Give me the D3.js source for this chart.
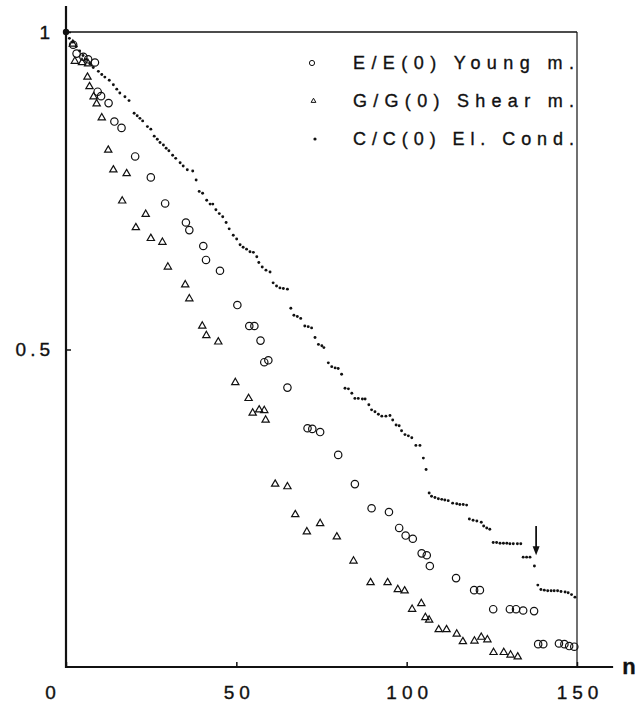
<!DOCTYPE html>
<html>
<head>
<meta charset="utf-8">
<script src="https://cdn.jsdelivr.net/npm/d3@7"></script>
<style>
  body { margin: 0; background: #fff; }
  text { font-family: "Liberation Sans", Arial, Helvetica, sans-serif; fill: #111; stroke: #111; stroke-width: 0.35px; }
</style>
</head>
<body>
<div id="chart"></div>
<script>
const width = 636;
const height = 702;

// x ticks / y ticks
const xTicks = [0, 50, 100, 150];
const yTicks = [0.5, 1];

// E/E(0) Young modulus  [n, value]
const youngPts = [
  [2.1, 0.980], [3.1, 0.966], [5.1, 0.961], [6.5, 0.957], [8.5, 0.952],
  [9.3, 0.906], [10.3, 0.899], [12.5, 0.888], [14.2, 0.859], [16.3, 0.849],
  [20.3, 0.804], [24.9, 0.771], [29.1, 0.730], [35.2, 0.700], [36.2, 0.688],
  [40.3, 0.663], [41.1, 0.641], [45.2, 0.624], [50.3, 0.570], [53.8, 0.537],
  [55.3, 0.537], [57.1, 0.514], [58.2, 0.480], [59.4, 0.483], [65.0, 0.440],
  [70.9, 0.376], [72.3, 0.375], [74.6, 0.370], [79.9, 0.334], [84.8, 0.288],
  [89.7, 0.250], [94.8, 0.244], [97.8, 0.219], [99.7, 0.207], [101.8, 0.202],
  [104.4, 0.179], [105.9, 0.176], [106.8, 0.159], [114.5, 0.140], [119.8, 0.121],
  [121.5, 0.121], [125.4, 0.091], [130.3, 0.091], [132.1, 0.091], [134.2, 0.089],
  [137.4, 0.088], [138.6, 0.036], [140.1, 0.036], [144.7, 0.037], [146.3, 0.036],
  [147.7, 0.033], [149.2, 0.032]
];

// G/G(0) Shear modulus  [n, value]
const shearPts = [
  [2.0, 0.981], [2.6, 0.954], [4.7, 0.952], [6.5, 0.950], [6.3, 0.929],
  [6.9, 0.914], [8.1, 0.898], [9.0, 0.887], [10.5, 0.865], [12.4, 0.814],
  [13.9, 0.783], [17.8, 0.777], [16.5, 0.734], [23.4, 0.713], [20.5, 0.692],
  [24.9, 0.675], [28.3, 0.669], [29.9, 0.630], [35.0, 0.602], [36.2, 0.580],
  [40.0, 0.537], [41.2, 0.522], [44.7, 0.512], [49.7, 0.448], [53.6, 0.423],
  [54.8, 0.400], [56.7, 0.405], [58.2, 0.404], [58.6, 0.389], [61.4, 0.288],
  [65.0, 0.284], [67.3, 0.240], [74.6, 0.226], [70.7, 0.213], [79.5, 0.205],
  [84.4, 0.167], [89.4, 0.133], [94.4, 0.133], [97.4, 0.122], [99.4, 0.120],
  [101.6, 0.091], [104.3, 0.100], [105.5, 0.078], [106.6, 0.074], [109.4, 0.059],
  [111.7, 0.059], [114.7, 0.052], [116.5, 0.040], [119.9, 0.041], [121.9, 0.047],
  [123.7, 0.043], [125.5, 0.023], [128.5, 0.023], [130.5, 0.019], [132.6, 0.016]
];

// C/C(0) electrical conductivity  [n, value]
const condPts = [
  [0, 1], [1, 0.990], [2, 0.984], [3, 0.977], [4, 0.970], [5, 0.963], [6, 0.957],
  [7, 0.950], [8, 0.944], [9.5, 0.938], [10.5, 0.933], [11.4, 0.929], [12.7, 0.924],
  [13.9, 0.917], [14.9, 0.910], [15.8, 0.904], [17.3, 0.898], [18.5, 0.892],
  [20.0, 0.872], [20.9, 0.868], [21.7, 0.864], [22.5, 0.860], [23.9, 0.851],
  [24.9, 0.847], [25.9, 0.836], [26.8, 0.831], [27.6, 0.826], [28.6, 0.822],
  [29.4, 0.817], [30.2, 0.813], [31.3, 0.806], [32.2, 0.801], [33.5, 0.794],
  [34.4, 0.789], [35.6, 0.783], [37.2, 0.781], [38.2, 0.767], [39.1, 0.749],
  [40.1, 0.746], [41.3, 0.735], [42.3, 0.729], [43.1, 0.729], [44.0, 0.720],
  [45.0, 0.714], [46.0, 0.709], [47.0, 0.700], [47.9, 0.690], [49.1, 0.680],
  [50.1, 0.674], [51.1, 0.665], [52.0, 0.661], [53.0, 0.658], [54.0, 0.654],
  [55.0, 0.653], [56.0, 0.646], [56.6, 0.637], [57.6, 0.630], [58.7, 0.625],
  [59.9, 0.622], [60.8, 0.605], [61.8, 0.600], [62.8, 0.597], [63.8, 0.596],
  [65.0, 0.595], [66.0, 0.565], [66.9, 0.554], [67.9, 0.552], [68.9, 0.549],
  [70.1, 0.537], [71.1, 0.536], [72.1, 0.534], [73.1, 0.519], [74.1, 0.508],
  [75.1, 0.506], [75.7, 0.503], [77.0, 0.479], [78.0, 0.473], [79.0, 0.471],
  [79.9, 0.470], [80.9, 0.461], [81.9, 0.439], [82.9, 0.438], [83.9, 0.431],
  [84.8, 0.423], [85.8, 0.423], [87.0, 0.422], [87.8, 0.422], [88.9, 0.413],
  [89.7, 0.405], [90.7, 0.402], [91.7, 0.398], [92.7, 0.395], [93.9, 0.395],
  [95.1, 0.396], [95.9, 0.389], [96.9, 0.381], [97.8, 0.380], [98.5, 0.372],
  [99.5, 0.366], [100.5, 0.364], [101.5, 0.361], [102.7, 0.349], [103.9, 0.349],
  [104.9, 0.329], [105.7, 0.311], [106.6, 0.274], [107.3, 0.269], [108.3, 0.267],
  [109.3, 0.265], [110.3, 0.264], [111.2, 0.263], [112.2, 0.262], [113.5, 0.258],
  [114.7, 0.257], [115.6, 0.256], [116.6, 0.256], [117.6, 0.255], [118.4, 0.233],
  [119.5, 0.231], [120.6, 0.230], [121.9, 0.228], [122.6, 0.222], [123.5, 0.219],
  [124.4, 0.217], [125.4, 0.196], [126.4, 0.196], [127.4, 0.195], [128.4, 0.195],
  [129.4, 0.195], [130.3, 0.194], [131.3, 0.194], [132.5, 0.194], [133.5, 0.194],
  [134.2, 0.173], [135.2, 0.173], [136.2, 0.173], [137.5, 0.159], [138.5, 0.129],
  [139.4, 0.122], [140.4, 0.121], [141.4, 0.120], [142.4, 0.120], [143.3, 0.120],
  [144.3, 0.120], [145.3, 0.119], [146.5, 0.118], [147.4, 0.117], [148.4, 0.114],
  [149.4, 0.110]
];

// arrow marking the drop near n = 138
const arrowN = 138;
const arrowFrom = 0.222;
const arrowTo = 0.176;

const legendLabels = ["E/E(0) Young m.", "G/G(0) Shear m.", "C/C(0) El. Cond."];
const legendKinds = ["circle", "triangle", "dot"];

let svg = d3.select("#chart").append("svg")
    .attr("width", width)
    .attr("height", height);

let x = d3.scaleLinear().domain([0, 150]).range([66, 577]);
let y = d3.scaleLinear().domain([0, 1]).range([667, 32]);

// frame: top line at 1 and right line at 150
svg.append("line")
    .attr("x1", x(0)).attr("x2", x(150))
    .attr("y1", y(1)).attr("y2", y(1))
    .attr("stroke", "#111").attr("stroke-width", 1.6);
svg.append("line")
    .attr("x1", x(150)).attr("x2", x(150))
    .attr("y1", y(1)).attr("y2", y(0))
    .attr("stroke", "#111").attr("stroke-width", 1.2);

// x axis
let xAxis = svg.append("g")
    .attr("transform", `translate(0,${y(0)})`)
    .call(d3.axisBottom(x).tickValues(xTicks).tickSizeInner(-5).tickSizeOuter(0).tickPadding(19));
xAxis.select(".domain").remove();
xAxis.selectAll("line").attr("stroke", "#111").attr("stroke-width", 1.5);
xAxis.selectAll("text")
    .attr("font-size", 19)
    .attr("letter-spacing", "5px")
    .attr("dx", "2.5px")
    .attr("font-family", "Liberation Sans, Arial, sans-serif")
    .attr("fill", "#111");
xAxis.selectAll(".tick").filter(d => d === 0).select("text").attr("x", -16);
xAxis.append("line")
    .attr("x1", x(0) - 1).attr("x2", x(160.6))
    .attr("stroke", "#111").attr("stroke-width", 2.2);

// y axis
let yAxis = svg.append("g")
    .attr("transform", `translate(${x(0)},0)`)
    .call(d3.axisLeft(y).tickValues(yTicks).tickFormat(d => d === 1 ? "1" : "0.5")
        .tickSizeInner(-5).tickSizeOuter(0).tickPadding(12));
yAxis.select(".domain").remove();
yAxis.selectAll("line").attr("stroke", "#111").attr("stroke-width", 1.5);
yAxis.selectAll("text")
    .attr("font-size", 19)
    .attr("letter-spacing", "4px")
    .attr("font-family", "Liberation Sans, Arial, sans-serif")
    .attr("fill", "#111");
yAxis.append("line")
    .attr("y1", y(0) + 1).attr("y2", y(1.041))
    .attr("stroke", "#111").attr("stroke-width", 2.2);

svg.append("text")
    .attr("x", 629)
    .attr("y", y(0) + 7)
    .attr("text-anchor", "middle")
    .attr("font-size", 22)
    .attr("font-weight", "bold")
    .text("n");

let triangle = d3.symbol(d3.symbolTriangle, 23);
let triangleSmall = d3.symbol(d3.symbolTriangle, 10);

// Young modulus: open circles
svg.append("g").selectAll("circle")
    .data(youngPts)
    .enter()
    .append("circle")
    .attr("cx", d => x(d[0]))
    .attr("cy", d => y(d[1]))
    .attr("r", 3.7)
    .attr("fill", "none")
    .attr("stroke", "#111")
    .attr("stroke-width", 1.2);

// Shear modulus: open triangles
svg.append("g").selectAll("path")
    .data(shearPts)
    .enter()
    .append("path")
    .attr("d", triangle)
    .attr("transform", d => `translate(${x(d[0])},${y(d[1])})`)
    .attr("fill", "none")
    .attr("stroke", "#111")
    .attr("stroke-width", 1.2);

// conductivity: small dots
svg.append("g").selectAll("circle")
    .data(condPts)
    .enter()
    .append("circle")
    .attr("cx", d => x(d[0]))
    .attr("cy", d => y(d[1]))
    .attr("r", (d, i) => i === 0 ? 3.2 : 1.45)
    .attr("fill", "#111");

// arrow
svg.append("line")
    .attr("x1", x(arrowN)).attr("x2", x(arrowN))
    .attr("y1", y(arrowFrom)).attr("y2", y(arrowTo) - 6)
    .attr("stroke", "#111").attr("stroke-width", 1.8);
svg.append("path")
    .attr("d", `M${x(arrowN) - 3.5},${y(arrowTo) - 9} L${x(arrowN) + 3.5},${y(arrowTo) - 9} L${x(arrowN)},${y(arrowTo)} Z`)
    .attr("fill", "#111");

// legend
let legend = svg.append("g");
legendLabels.forEach((label, i) => {
    let ly = 63 + i * 38;
    let kind = legendKinds[i];
    if (kind === "circle") {
        legend.append("circle").attr("cx", 312).attr("cy", ly)
            .attr("r", 2.6).attr("fill", "none").attr("stroke", "#111").attr("stroke-width", 1);
    } else if (kind === "triangle") {
        legend.append("path").attr("d", triangleSmall)
            .attr("transform", `translate(313.5,${ly})`)
            .attr("fill", "none").attr("stroke", "#111").attr("stroke-width", 1);
    } else {
        legend.append("circle").attr("cx", 315).attr("cy", ly)
            .attr("r", 1.6).attr("fill", "#111");
    }
    legend.append("text")
        .attr("x", 353)
        .attr("y", ly + 6)
        .attr("font-size", 18)
        .attr("textLength", 221)
        .attr("lengthAdjust", "spacing")
        .text(label);
});
</script>
</body>
</html>
